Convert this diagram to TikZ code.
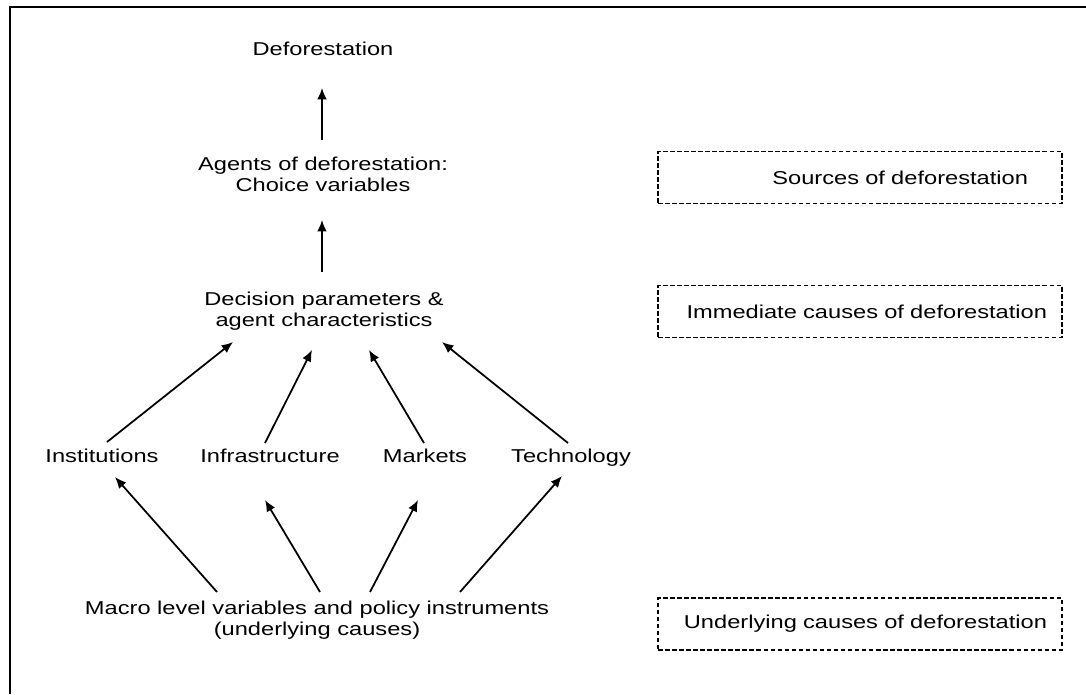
\documentclass[tikz,border=0pt]{standalone}
\usepackage{fontspec}
\setmainfont[FakeStretch=1.27]{Liberation Sans}
\usetikzlibrary{calc,arrows.meta}
\tikzset{
txt/.style={inner sep=0pt, align=center, font=\fontsize{10.6}{11.9}\selectfont},
lbl/.style={txt, text height=0.72em, text depth=0.21em},
arr/.style={-{Latex[length=6.5pt,width=5.5pt]}, line width=1pt},
lvlbox/.style={draw, dash pattern=on 2.6pt off 1.4pt, line width=0.8pt,
  outer sep=0pt, inner ysep=0pt, inner xsep=0.3cm, minimum height=1.04cm,
  text width=7.48cm, align=right, anchor=east, font=\fontsize{10.6}{11.9}\selectfont}}

\begin{document}
\begin{tikzpicture}[x=0.02cm, y=-0.02cm]
\useasboundingbox (0,0) rectangle (1086,694);
\draw[line width=1.4pt] (1086,7) -- (10,7) -- (10,694);

\node[lbl] (defor) at (323,51) {Deforestation};
\node[txt] (agents) at (323,174) {Agents of deforestation:\\Choice variables};
\node[txt] (decision) at (324,311) {Decision parameters \&\\agent characteristics};
\node[lbl] (inst) at (102,458) {Institutions};
\node[lbl] (infra) at (270,458) {Infrastructure};
\node[lbl] (markets) at (425,458) {Markets};
\node[lbl] (tech) at (571,458) {Technology};
\node[txt] (macro) at (317,620) {Macro level variables and policy instruments\\(underlying causes)};

\node[lvlbox, inner xsep=0.68cm, text width=6.72cm] (sources) at (1062,177.5) {Sources of deforestation};
\node[lvlbox] (immediate) at (1062,311.5) {Immediate causes of deforestation};
\node[lvlbox] (underlying) at (1062,624) {Underlying causes of deforestation};

\draw[arr] ($(agents)+(-1,-34)$) -- ($(defor)+(-1,37)$);
\draw[arr] ($(decision)+(-2,-39)$) -- ($(agents)+(-1,46)$);
\draw[arr] ($(inst)+(5,-16)$) -- ($(decision)+(-91,31)$);
\draw[arr] ($(infra)+(-5,-15)$) -- ($(decision)+(-12,39)$);
\draw[arr] ($(markets)+(-1,-15)$) -- ($(decision)+(45,39)$);
\draw[arr] ($(tech)+(-3,-15)$) -- ($(decision)+(118,31)$);
\draw[arr] ($(macro)+(-100,-28)$) -- ($(inst)+(13,19)$);
\draw[arr] ($(macro)+(3,-28)$) -- ($(infra)+(-5,42)$);
\draw[arr] ($(macro)+(53,-28)$) -- ($(markets)+(-7,42)$);
\draw[arr] ($(macro)+(143,-28)$) -- ($(tech)+(-9,18)$);
\end{tikzpicture}
\end{document}
